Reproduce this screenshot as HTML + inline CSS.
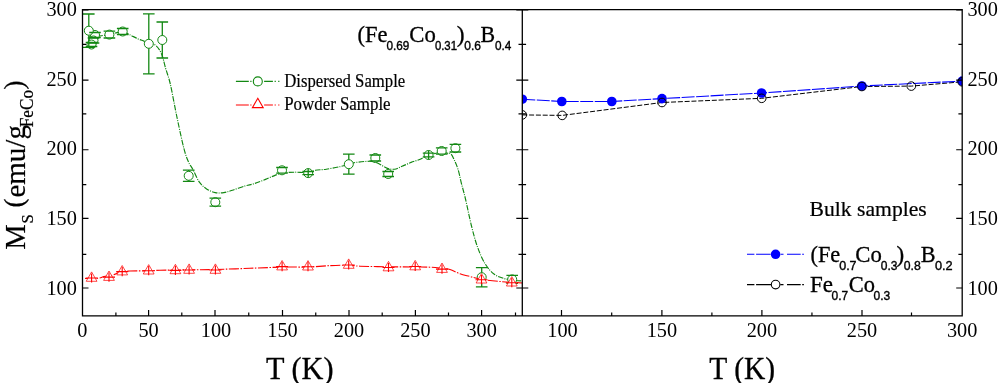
<!DOCTYPE html><html><head><meta charset="utf-8"><style>html,body{margin:0;padding:0;background:#fff;width:1000px;height:383px;overflow:hidden}svg{display:block}</style></head><body>
<svg width="1000" height="383" viewBox="0 0 1000 383">
<rect width="1000" height="383" fill="#fff"/>
<defs><clipPath id="cl"><rect x="82.50" y="9.60" width="439.80" height="306.30"/></clipPath>
<clipPath id="cr"><rect x="522.30" y="9.60" width="439.90" height="306.30"/></clipPath></defs>
<g clip-path="url(#cl)" fill="none">
<path d="M88.50,37.00 C89.58,36.92 92.82,36.72 95.00,36.50 C97.18,36.28 99.20,36.02 101.60,35.70 C104.00,35.38 107.12,35.05 109.40,34.60 C111.68,34.15 113.08,33.47 115.30,33.00 C117.52,32.53 120.42,31.57 122.70,31.80 C124.98,32.03 126.43,33.22 129.00,34.40 C131.57,35.58 135.70,37.82 138.10,38.90 C140.50,39.98 141.62,40.22 143.40,40.90 C145.18,41.58 146.73,42.23 148.80,43.00 C150.87,43.77 153.67,43.67 155.80,45.50 C157.93,47.33 159.97,50.20 161.60,54.00 C163.23,57.80 164.15,63.30 165.60,68.30 C167.05,73.30 168.38,75.73 170.30,84.00 C172.22,92.27 174.83,107.17 177.10,117.90 C179.37,128.63 182.00,141.05 183.90,148.40 C185.80,155.75 187.00,158.50 188.50,162.00 C190.00,165.50 191.08,166.03 192.90,169.40 C194.72,172.77 197.12,178.95 199.40,182.20 C201.68,185.45 203.97,187.17 206.60,188.90 C209.23,190.63 212.33,191.98 215.20,192.60 C218.07,193.22 220.93,193.00 223.80,192.60 C226.67,192.20 228.82,191.32 232.40,190.20 C235.98,189.08 241.70,186.98 245.30,185.90 C248.90,184.82 250.63,184.78 254.00,183.70 C257.37,182.62 261.92,180.83 265.50,179.40 C269.08,177.97 272.63,176.17 275.50,175.10 C278.37,174.03 279.58,173.48 282.70,173.00 C285.82,172.52 289.98,172.28 294.20,172.20 C298.42,172.12 304.48,172.82 308.00,172.50 C311.52,172.18 312.25,170.85 315.30,170.30 C318.35,169.75 322.08,169.83 326.30,169.20 C330.52,168.57 336.82,167.37 340.60,166.50 C344.38,165.63 346.43,164.68 349.00,164.00 C351.57,163.32 352.45,162.85 356.00,162.40 C359.55,161.95 366.63,161.17 370.30,161.30 C373.97,161.43 375.25,162.07 378.00,163.20 C380.75,164.33 384.05,167.10 386.80,168.10 C389.55,169.10 391.97,169.50 394.50,169.20 C397.03,168.90 399.23,167.43 402.00,166.30 C404.77,165.17 408.07,163.58 411.10,162.40 C414.13,161.22 417.27,160.43 420.20,159.20 C423.13,157.97 426.08,155.98 428.70,155.00 C431.32,154.02 433.72,153.80 435.90,153.30 C438.08,152.80 439.83,152.00 441.80,152.00 C443.77,152.00 446.18,152.98 447.70,153.30 C449.22,153.62 449.82,152.82 450.90,153.90 C451.98,154.98 453.00,157.18 454.20,159.80 C455.40,162.42 456.90,165.68 458.10,169.60 C459.30,173.52 460.17,178.40 461.40,183.30 C462.63,188.20 463.82,191.88 465.50,199.00 C467.18,206.12 469.50,218.00 471.50,226.00 C473.50,234.00 475.25,240.73 477.50,247.00 C479.75,253.27 482.25,259.10 485.00,263.60 C487.75,268.10 490.75,271.50 494.00,274.00 C497.25,276.50 501.00,277.52 504.50,278.60 C508.00,279.68 512.03,280.10 515.00,280.50 C517.97,280.90 521.08,280.92 522.30,281.00" stroke="#128812" stroke-width="1.15" stroke-dasharray="5.5 1.2 1 1.2"/>
<circle cx="122.70" cy="31.50" r="4.50" stroke="#128812" stroke-width="1.0" fill="#fff"/>
<circle cx="109.40" cy="34.60" r="4.50" stroke="#128812" stroke-width="1.0" fill="#fff"/>
<circle cx="95.00" cy="35.00" r="4.50" stroke="#128812" stroke-width="1.0" fill="#fff"/>
<circle cx="93.50" cy="40.50" r="4.50" stroke="#128812" stroke-width="1.0" fill="#fff"/>
<circle cx="91.50" cy="44.50" r="4.50" stroke="#128812" stroke-width="1.0" fill="#fff"/>
<circle cx="88.80" cy="30.70" r="4.50" stroke="#128812" stroke-width="1.0" fill="#fff"/>
<circle cx="148.80" cy="43.80" r="4.50" stroke="#128812" stroke-width="1.0" fill="#fff"/>
<circle cx="162.30" cy="40.00" r="4.50" stroke="#128812" stroke-width="1.0" fill="#fff"/>
<circle cx="188.70" cy="175.80" r="4.50" stroke="#128812" stroke-width="1.0" fill="#fff"/>
<circle cx="215.30" cy="202.20" r="4.50" stroke="#128812" stroke-width="1.0" fill="#fff"/>
<circle cx="282.00" cy="170.30" r="4.50" stroke="#128812" stroke-width="1.0" fill="#fff"/>
<circle cx="308.20" cy="173.10" r="4.50" stroke="#128812" stroke-width="1.0" fill="#fff"/>
<circle cx="348.80" cy="164.20" r="4.50" stroke="#128812" stroke-width="1.0" fill="#fff"/>
<circle cx="375.30" cy="158.00" r="4.50" stroke="#128812" stroke-width="1.0" fill="#fff"/>
<circle cx="388.20" cy="174.00" r="4.50" stroke="#128812" stroke-width="1.0" fill="#fff"/>
<circle cx="428.60" cy="155.00" r="4.50" stroke="#128812" stroke-width="1.0" fill="#fff"/>
<circle cx="441.70" cy="151.00" r="4.50" stroke="#128812" stroke-width="1.0" fill="#fff"/>
<circle cx="455.40" cy="148.20" r="4.50" stroke="#128812" stroke-width="1.0" fill="#fff"/>
<circle cx="481.70" cy="277.20" r="4.50" stroke="#128812" stroke-width="1.0" fill="#fff"/>
<circle cx="512.20" cy="279.40" r="4.50" stroke="#128812" stroke-width="1.0" fill="#fff"/>
<path d="M116.90,28.50H128.50M116.90,34.50H128.50" stroke="#128812" stroke-width="1.30"/>
<path d="M103.60,31.20H115.20M103.60,38.00H115.20" stroke="#128812" stroke-width="1.30"/>
<path d="M89.20,32.50H100.80M89.20,37.50H100.80" stroke="#128812" stroke-width="1.30"/>
<path d="M87.70,38.00H99.30M87.70,43.00H99.30" stroke="#128812" stroke-width="1.30"/>
<path d="M85.70,42.50H97.30M85.70,46.50H97.30" stroke="#128812" stroke-width="1.30"/>
<path d="M88.80,14.00V26.20M88.80,35.20V47.40M83.00,14.00H94.60M83.00,47.40H94.60" stroke="#128812" stroke-width="1.30"/>
<path d="M148.80,13.80V39.30M148.80,48.30V73.80M143.00,13.80H154.60M143.00,73.80H154.60" stroke="#128812" stroke-width="1.30"/>
<path d="M162.30,22.00V35.50M162.30,44.50V58.00M156.50,22.00H168.10M156.50,58.00H168.10" stroke="#128812" stroke-width="1.30"/>
<path d="M188.70,170.20V171.30M188.70,180.30V181.40M182.90,170.20H194.50M182.90,181.40H194.50" stroke="#128812" stroke-width="1.30"/>
<path d="M209.50,198.20H221.10M209.50,206.20H221.10" stroke="#128812" stroke-width="1.30"/>
<path d="M276.20,167.50H287.80M276.20,173.10H287.80" stroke="#128812" stroke-width="1.30"/>
<path d="M308.20,168.60V177.60M302.40,171.50H314.00M302.40,174.70H314.00" stroke="#128812" stroke-width="1.30"/>
<path d="M348.80,154.20V159.70M348.80,168.70V174.20M343.00,154.20H354.60M343.00,174.20H354.60" stroke="#128812" stroke-width="1.30"/>
<path d="M369.50,155.00H381.10M369.50,161.00H381.10" stroke="#128812" stroke-width="1.30"/>
<path d="M382.40,171.50H394.00M382.40,176.50H394.00" stroke="#128812" stroke-width="1.30"/>
<path d="M428.60,150.50V159.50M422.80,153.20H434.40M422.80,156.80H434.40" stroke="#128812" stroke-width="1.30"/>
<path d="M435.90,147.90H447.50M435.90,154.10H447.50" stroke="#128812" stroke-width="1.30"/>
<path d="M449.60,144.40H461.20M449.60,152.00H461.20" stroke="#128812" stroke-width="1.30"/>
<path d="M481.70,267.60V272.70M481.70,281.70V286.80M475.90,267.60H487.50M475.90,286.80H487.50" stroke="#128812" stroke-width="1.30"/>
<path d="M506.40,275.40H518.00M506.40,283.40H518.00" stroke="#128812" stroke-width="1.30"/>
<path d="M85.00,278.50 C87.25,278.45 95.33,278.53 98.50,278.20 C101.67,277.87 101.75,276.98 104.00,276.50 C106.25,276.02 109.67,275.92 112.00,275.30 C114.33,274.68 116.33,273.43 118.00,272.80 C119.67,272.17 120.00,271.80 122.00,271.50 C124.00,271.20 125.55,271.12 130.00,271.00 C134.45,270.88 143.70,270.92 148.70,270.80 C153.70,270.68 153.12,270.47 160.00,270.30 C166.88,270.13 180.83,269.93 190.00,269.80 C199.17,269.67 205.00,269.75 215.00,269.50 C225.00,269.25 238.83,268.70 250.00,268.30 C261.17,267.90 272.33,267.32 282.00,267.10 C291.67,266.88 300.00,267.25 308.00,267.00 C316.00,266.75 323.33,265.90 330.00,265.60 C336.67,265.30 343.00,265.10 348.00,265.20 C353.00,265.30 353.33,265.93 360.00,266.20 C366.67,266.47 378.83,266.67 388.00,266.80 C397.17,266.93 408.00,266.93 415.00,267.00 C422.00,267.07 425.50,266.97 430.00,267.20 C434.50,267.43 438.67,268.02 442.00,268.40 C445.33,268.78 447.00,268.60 450.00,269.50 C453.00,270.40 456.67,272.63 460.00,273.80 C463.33,274.97 466.50,275.58 470.00,276.50 C473.50,277.42 476.00,278.47 481.00,279.30 C486.00,280.13 493.12,280.88 500.00,281.50 C506.88,282.12 518.58,282.75 522.30,283.00" stroke="#ff0000" stroke-width="1.10" stroke-dasharray="10 1.5 1.5 1.5"/>
<path d="M91.60,271.90L97.00,281.30L86.20,281.30Z" stroke="#ff0000" stroke-width="0.9" stroke-opacity="0.8" stroke-linejoin="miter" fill="#fff"/>
<path d="M109.00,271.00L114.40,280.40L103.60,280.40Z" stroke="#ff0000" stroke-width="0.9" stroke-opacity="0.8" stroke-linejoin="miter" fill="#fff"/>
<path d="M122.20,265.50L127.60,274.90L116.80,274.90Z" stroke="#ff0000" stroke-width="0.9" stroke-opacity="0.8" stroke-linejoin="miter" fill="#fff"/>
<path d="M148.70,264.60L154.10,274.00L143.30,274.00Z" stroke="#ff0000" stroke-width="0.9" stroke-opacity="0.8" stroke-linejoin="miter" fill="#fff"/>
<path d="M175.40,264.30L180.80,273.70L170.00,273.70Z" stroke="#ff0000" stroke-width="0.9" stroke-opacity="0.8" stroke-linejoin="miter" fill="#fff"/>
<path d="M189.10,263.90L194.50,273.30L183.70,273.30Z" stroke="#ff0000" stroke-width="0.9" stroke-opacity="0.8" stroke-linejoin="miter" fill="#fff"/>
<path d="M215.40,263.90L220.80,273.30L210.00,273.30Z" stroke="#ff0000" stroke-width="0.9" stroke-opacity="0.8" stroke-linejoin="miter" fill="#fff"/>
<path d="M282.10,260.50L287.50,269.90L276.70,269.90Z" stroke="#ff0000" stroke-width="0.9" stroke-opacity="0.8" stroke-linejoin="miter" fill="#fff"/>
<path d="M308.00,260.60L313.40,270.00L302.60,270.00Z" stroke="#ff0000" stroke-width="0.9" stroke-opacity="0.8" stroke-linejoin="miter" fill="#fff"/>
<path d="M348.70,258.90L354.10,268.30L343.30,268.30Z" stroke="#ff0000" stroke-width="0.9" stroke-opacity="0.8" stroke-linejoin="miter" fill="#fff"/>
<path d="M388.50,261.40L393.90,270.80L383.10,270.80Z" stroke="#ff0000" stroke-width="0.9" stroke-opacity="0.8" stroke-linejoin="miter" fill="#fff"/>
<path d="M415.20,260.40L420.60,269.80L409.80,269.80Z" stroke="#ff0000" stroke-width="0.9" stroke-opacity="0.8" stroke-linejoin="miter" fill="#fff"/>
<path d="M442.00,263.00L447.40,272.40L436.60,272.40Z" stroke="#ff0000" stroke-width="0.9" stroke-opacity="0.8" stroke-linejoin="miter" fill="#fff"/>
<path d="M481.50,273.60L486.90,283.00L476.10,283.00Z" stroke="#ff0000" stroke-width="0.9" stroke-opacity="0.8" stroke-linejoin="miter" fill="#fff"/>
<path d="M511.80,276.60L517.20,286.00L506.40,286.00Z" stroke="#ff0000" stroke-width="0.9" stroke-opacity="0.8" stroke-linejoin="miter" fill="#fff"/>
<path d="M91.60,273.40V282.60M85.60,278.00H97.60" stroke="#ff0000" stroke-width="1.1"/>
<path d="M109.00,272.50V281.70M103.00,277.10H115.00" stroke="#ff0000" stroke-width="1.1"/>
<path d="M122.20,267.00V276.20M116.20,271.60H128.20" stroke="#ff0000" stroke-width="1.1"/>
<path d="M148.70,266.10V275.30M142.70,270.70H154.70" stroke="#ff0000" stroke-width="1.1"/>
<path d="M175.40,265.80V275.00M169.40,270.40H181.40" stroke="#ff0000" stroke-width="1.1"/>
<path d="M189.10,265.40V274.60M183.10,270.00H195.10" stroke="#ff0000" stroke-width="1.1"/>
<path d="M215.40,265.40V274.60M209.40,270.00H221.40" stroke="#ff0000" stroke-width="1.1"/>
<path d="M282.10,262.00V271.20M276.10,266.60H288.10" stroke="#ff0000" stroke-width="1.1"/>
<path d="M308.00,262.10V271.30M302.00,266.70H314.00" stroke="#ff0000" stroke-width="1.1"/>
<path d="M348.70,260.40V269.60M342.70,265.00H354.70" stroke="#ff0000" stroke-width="1.1"/>
<path d="M388.50,262.90V272.10M382.50,267.50H394.50" stroke="#ff0000" stroke-width="1.1"/>
<path d="M415.20,261.90V271.10M409.20,266.50H421.20" stroke="#ff0000" stroke-width="1.1"/>
<path d="M442.00,264.50V273.70M436.00,269.10H448.00" stroke="#ff0000" stroke-width="1.1"/>
<path d="M481.50,275.10V284.30M475.50,279.70H487.50" stroke="#ff0000" stroke-width="1.1"/>
<path d="M511.80,278.10V287.30M505.80,282.70H517.80" stroke="#ff0000" stroke-width="1.1"/>
</g>
<g clip-path="url(#cr)" fill="none">
<polyline points="522.30,114.90 562.20,115.40 662.00,102.50 761.70,98.30 861.90,86.50 911.30,86.10 962.20,81.80" stroke="#000" stroke-width="1.0" stroke-dasharray="5 1.8"/>
<polyline points="522.30,99.20 561.80,101.50 611.80,101.50 662.00,98.60 761.60,93.00 861.90,86.00 962.20,81.10" stroke="#0000ff" stroke-width="1.10" stroke-dasharray="13 1.5"/>
<circle cx="522.30" cy="99.20" r="4.8" fill="#0000ff"/>
<circle cx="561.80" cy="101.50" r="4.8" fill="#0000ff"/>
<circle cx="611.80" cy="101.50" r="4.8" fill="#0000ff"/>
<circle cx="662.00" cy="98.60" r="4.8" fill="#0000ff"/>
<circle cx="761.60" cy="93.00" r="4.8" fill="#0000ff"/>
<circle cx="861.90" cy="86.00" r="4.8" fill="#0000ff"/>
<circle cx="962.20" cy="81.10" r="4.8" fill="#0000ff"/>
<circle cx="522.30" cy="114.90" r="4.3" stroke="#000" stroke-width="1.0"/>
<circle cx="562.20" cy="115.40" r="4.3" stroke="#000" stroke-width="1.0"/>
<circle cx="662.00" cy="102.50" r="4.3" stroke="#000" stroke-width="1.0"/>
<circle cx="761.70" cy="98.30" r="4.3" stroke="#000" stroke-width="1.0"/>
<circle cx="861.90" cy="86.50" r="4.3" stroke="#000" stroke-width="1.0"/>
<circle cx="911.30" cy="86.10" r="4.3" stroke="#000" stroke-width="1.0"/>
<circle cx="962.20" cy="81.80" r="4.3" stroke="#000" stroke-width="1.0"/>
</g>
<path d="M82.50,288.00h6M522.30,288.00h-6M522.30,288.00h6M962.20,288.00h-6M82.50,218.35h6M522.30,218.35h-6M522.30,218.35h6M962.20,218.35h-6M82.50,149.75h6M522.30,149.75h-6M522.30,149.75h6M962.20,149.75h-6M82.50,80.20h6M522.30,80.20h-6M522.30,80.20h6M962.20,80.20h-6M82.50,10.00h6M522.30,10.00h-6M522.30,10.00h6M962.20,10.00h-6M82.50,254.40h3.8M522.30,254.40h-3.8M522.30,254.40h3.8M962.20,254.40h-3.8M82.50,184.70h3.8M522.30,184.70h-3.8M522.30,184.70h3.8M962.20,184.70h-3.8M82.50,113.90h3.8M522.30,113.90h-3.8M522.30,113.90h3.8M962.20,113.90h-3.8M82.50,44.40h3.8M522.30,44.40h-3.8M522.30,44.40h3.8M962.20,44.40h-3.8M115.90,315.90v-3.5M148.60,315.90v-6.0M181.80,315.90v-3.5M215.00,315.90v-6.0M248.75,315.90v-3.5M282.50,315.90v-6.0M315.75,315.90v-3.5M349.00,315.90v-6.0M382.20,315.90v-3.5M415.40,315.90v-6.0M448.50,315.90v-3.5M481.60,315.90v-6.0M515.50,315.90v-3.5M561.50,315.90v-6.0M611.70,315.90v-3.5M661.90,315.90v-6.0M711.90,315.90v-3.5M761.90,315.90v-6.0M811.95,315.90v-3.5M862.00,315.90v-6.0M911.50,315.90v-3.5" stroke="#000" stroke-width="1.2" fill="none"/>
<path d="M82.50,9.60H962.20V315.90H82.50ZM522.30,9.60V315.90" stroke="#000" stroke-width="1.3" fill="none"/>
<g style="font-family:'Liberation Serif','Times New Roman',serif;font-size:20.3px" fill="#000">
<text x="76.9" y="294.90" text-anchor="end">100</text>
<text x="967.4" y="294.90">100</text>
<text x="76.9" y="225.00" text-anchor="end">150</text>
<text x="967.4" y="225.00">150</text>
<text x="76.9" y="155.30" text-anchor="end">200</text>
<text x="967.4" y="155.30">200</text>
<text x="76.9" y="85.80" text-anchor="end">250</text>
<text x="967.4" y="85.80">250</text>
<text x="76.9" y="15.60" text-anchor="end">300</text>
<text x="967.4" y="15.60">300</text>
<text x="82.30" y="336.5" text-anchor="middle">0</text>
<text x="148.60" y="336.5" text-anchor="middle">50</text>
<text x="216.00" y="336.5" text-anchor="middle">100</text>
<text x="282.50" y="336.5" text-anchor="middle">150</text>
<text x="349.00" y="336.5" text-anchor="middle">200</text>
<text x="415.40" y="336.5" text-anchor="middle">250</text>
<text x="481.60" y="336.5" text-anchor="middle">300</text>
<text x="562.50" y="336.5" text-anchor="middle">100</text>
<text x="661.90" y="336.5" text-anchor="middle">150</text>
<text x="761.90" y="336.5" text-anchor="middle">200</text>
<text x="862.00" y="336.5" text-anchor="middle">250</text>
<text x="962.10" y="336.5" text-anchor="middle">300</text>
</g>
<g style="font-family:'Liberation Serif','Times New Roman',serif;font-size:29px;stroke:#000;stroke-width:0.3px" fill="#000">
<text transform="translate(266,378.5) scale(1,1.07)" textLength="67.5" lengthAdjust="spacingAndGlyphs">T (K)</text>
<text transform="translate(709.3,378.5) scale(1,1.07)" textLength="65.8" lengthAdjust="spacingAndGlyphs">T (K)</text>
</g>
<g transform="translate(24.6,249.8) rotate(-90) scale(1,1.05)" style="font-family:'Liberation Serif','Times New Roman',serif;stroke:#000;stroke-width:0.2px" fill="#000">
<text x="0" y="0" style="font-size:29px" textLength="25.5" lengthAdjust="spacingAndGlyphs">M</text>
<text x="26.3" y="7.6" style="font-size:16.5px">S</text>
<text x="42.2" y="-1.8" style="font-size:27px">(</text>
<text x="52.26" y="0" style="font-size:29px">emu/g</text>
<text x="122.5" y="8.2" style="font-size:18px" textLength="37.3" lengthAdjust="spacingAndGlyphs">FeCo</text>
<text x="160.2" y="-1.8" style="font-size:27px">)</text>
</g>
<g fill="none" stroke-width="1.10">
<path d="M235.9,81.4H248.8M250.3,81.4H251.5M264.1,81.4H272.9M274.6,81.4H275.8M278.2,81.4H279.4" stroke="#128812"/>
<circle cx="257.8" cy="81.4" r="4.5" stroke="#128812"/>
<path d="M235.9,105H248.8M250.3,105H251.5M264.1,105H272.9M274.6,105H275.8M278.2,105H279.4" stroke="#ff0000"/>
<path d="M257.8,98.3L263.2,107.6L252.4,107.6Z" stroke="#ff0000"/>
<path d="M747,254.3H754.4M756.1,254.3H770.5M780.8,254.3H783.5M787,254.3H800.7M802.2,254.3H803.9" stroke="#0000ff"/>
<circle cx="775.6" cy="254.3" r="4.8" fill="#0000ff" stroke="none"/>
<path d="M747,284.6H754.4M756.1,284.6H771M780.3,284.6H783.5M787,284.6H800.7M802.2,284.6H803.9" stroke="#000"/>
<circle cx="775.6" cy="284.6" r="4.3" stroke="#000"/>
</g>
<g style="font-family:'Liberation Serif','Times New Roman',serif;font-size:18px;stroke:#000;stroke-width:0.2px" fill="#000">
<text x="284.2" y="86.7" textLength="121" lengthAdjust="spacingAndGlyphs">Dispersed Sample</text>
<text x="284.2" y="109.5" textLength="106.4" lengthAdjust="spacingAndGlyphs">Powder Sample</text>
<text transform="translate(809.5,215.9) scale(1,1.055)" style="font-size:20px" textLength="117.3" lengthAdjust="spacingAndGlyphs">Bulk samples</text>
</g>
<g fill="#000">
<text x="357.40" y="41.50" style="font-family:'Liberation Serif','Times New Roman',serif;stroke:#000;stroke-width:0.3px;font-size:22.2px" textLength="30.00" lengthAdjust="spacingAndGlyphs">(Fe</text><text x="386.50" y="49.60" style="font-family:'Liberation Sans',Arial,sans-serif;stroke:#000;stroke-width:0.4px;font-size:13.0px" textLength="22.90" lengthAdjust="spacingAndGlyphs">0.69</text><text x="409.30" y="41.50" style="font-family:'Liberation Serif','Times New Roman',serif;stroke:#000;stroke-width:0.3px;font-size:22.2px" textLength="26.50" lengthAdjust="spacingAndGlyphs">Co</text><text x="434.90" y="49.60" style="font-family:'Liberation Sans',Arial,sans-serif;stroke:#000;stroke-width:0.4px;font-size:13.0px" textLength="22.10" lengthAdjust="spacingAndGlyphs">0.31</text><text x="456.80" y="41.50" style="font-family:'Liberation Serif','Times New Roman',serif;stroke:#000;stroke-width:0.3px;font-size:22.2px" textLength="7.80" lengthAdjust="spacingAndGlyphs">)</text><text x="464.30" y="49.60" style="font-family:'Liberation Sans',Arial,sans-serif;stroke:#000;stroke-width:0.4px;font-size:13.0px" textLength="16.70" lengthAdjust="spacingAndGlyphs">0.6</text><text x="480.60" y="41.50" style="font-family:'Liberation Serif','Times New Roman',serif;stroke:#000;stroke-width:0.3px;font-size:22.2px" textLength="14.60" lengthAdjust="spacingAndGlyphs">B</text><text x="495.00" y="49.60" style="font-family:'Liberation Sans',Arial,sans-serif;stroke:#000;stroke-width:0.4px;font-size:13.0px" textLength="16.40" lengthAdjust="spacingAndGlyphs">0.4</text>
<text x="810.50" y="261.80" style="font-family:'Liberation Serif','Times New Roman',serif;stroke:#000;stroke-width:0.3px;font-size:22.4px" textLength="29.70" lengthAdjust="spacingAndGlyphs">(Fe</text><text x="839.20" y="269.70" style="font-family:'Liberation Sans',Arial,sans-serif;stroke:#000;stroke-width:0.4px;font-size:13.3px" textLength="17.40" lengthAdjust="spacingAndGlyphs">0.7</text><text x="855.30" y="261.80" style="font-family:'Liberation Serif','Times New Roman',serif;stroke:#000;stroke-width:0.3px;font-size:22.4px" textLength="26.50" lengthAdjust="spacingAndGlyphs">Co</text><text x="880.80" y="269.70" style="font-family:'Liberation Sans',Arial,sans-serif;stroke:#000;stroke-width:0.4px;font-size:13.3px" textLength="16.70" lengthAdjust="spacingAndGlyphs">0.3</text><text x="896.60" y="261.80" style="font-family:'Liberation Serif','Times New Roman',serif;stroke:#000;stroke-width:0.3px;font-size:22.4px" textLength="7.70" lengthAdjust="spacingAndGlyphs">)</text><text x="903.80" y="269.70" style="font-family:'Liberation Sans',Arial,sans-serif;stroke:#000;stroke-width:0.4px;font-size:13.3px" textLength="17.00" lengthAdjust="spacingAndGlyphs">0.8</text><text x="920.80" y="261.80" style="font-family:'Liberation Serif','Times New Roman',serif;stroke:#000;stroke-width:0.3px;font-size:22.4px" textLength="14.80" lengthAdjust="spacingAndGlyphs">B</text><text x="935.00" y="269.70" style="font-family:'Liberation Sans',Arial,sans-serif;stroke:#000;stroke-width:0.4px;font-size:13.3px" textLength="17.70" lengthAdjust="spacingAndGlyphs">0.2</text>
<text x="810.00" y="291.80" style="font-family:'Liberation Serif','Times New Roman',serif;stroke:#000;stroke-width:0.3px;font-size:22.4px" textLength="23.00" lengthAdjust="spacingAndGlyphs">Fe</text><text x="831.60" y="299.80" style="font-family:'Liberation Sans',Arial,sans-serif;stroke:#000;stroke-width:0.4px;font-size:13.3px" textLength="16.60" lengthAdjust="spacingAndGlyphs">0.7</text><text x="848.80" y="291.80" style="font-family:'Liberation Serif','Times New Roman',serif;stroke:#000;stroke-width:0.3px;font-size:22.4px" textLength="26.20" lengthAdjust="spacingAndGlyphs">Co</text><text x="873.60" y="299.80" style="font-family:'Liberation Sans',Arial,sans-serif;stroke:#000;stroke-width:0.4px;font-size:13.3px" textLength="16.70" lengthAdjust="spacingAndGlyphs">0.3</text>
</g>
</svg></body></html>
